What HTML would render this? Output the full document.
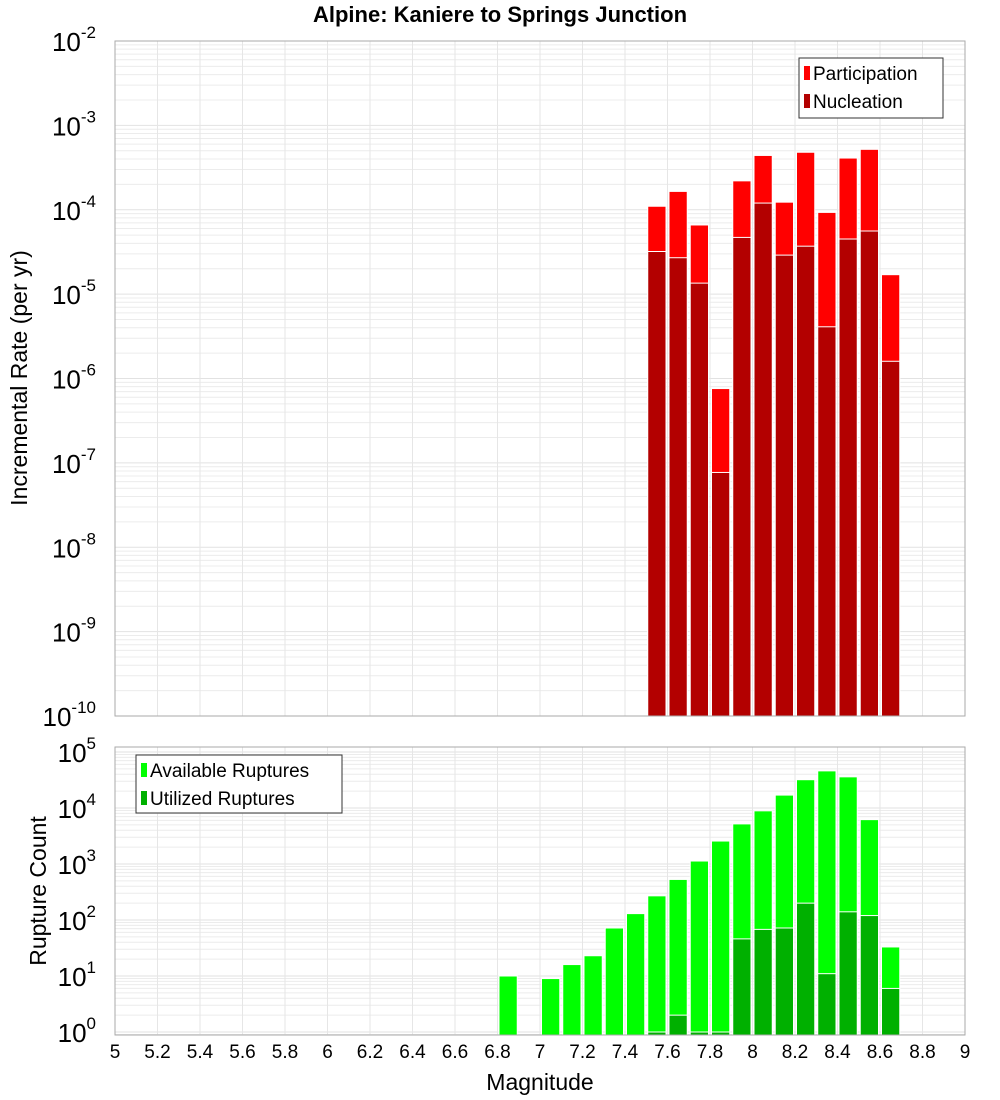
<!DOCTYPE html>
<html><head><meta charset="utf-8">
<style>
html,body{margin:0;padding:0;background:#fff;}
svg{display:block;font-family:"Liberation Sans","DejaVu Sans",sans-serif;}
</style></head>
<body>
<svg id="chart" width="1000" height="1100" viewBox="0 0 1000 1100" xmlns="http://www.w3.org/2000/svg">
<text x="500" y="22" text-anchor="middle" font-size="22" font-weight="bold" fill="#000">Alpine: Kaniere to Springs Junction</text>
<g id="top"></g>
<g id="bot"></g>
<text transform="translate(27,378) rotate(-90)" text-anchor="middle" font-size="23" fill="#000">Incremental Rate (per yr)</text>
<text transform="translate(46,891) rotate(-90)" text-anchor="middle" font-size="23" fill="#000">Rupture Count</text>
<text x="540" y="1090" text-anchor="middle" font-size="23" fill="#000">Magnitude</text>
</svg>
<script>
// ---- data ----
const binStarts = [6.8,6.9,7.0,7.1,7.2,7.3,7.4,7.5,7.6,7.7,7.8,7.9,8.0,8.1,8.2,8.3,8.4,8.5,8.6];
const participation = [0,0,0,0,0,0,0,1.1e-4,1.65e-4,6.6e-5,7.6e-7,2.2e-4,4.4e-4,1.23e-4,4.8e-4,9.3e-5,4.1e-4,5.2e-4,1.7e-5];
const nucleation = [0,0,0,0,0,0,0,3.2e-5,2.7e-5,1.35e-5,7.7e-8,4.7e-5,1.2e-4,2.9e-5,3.7e-5,4.1e-6,4.5e-5,5.6e-5,1.6e-6];
const available = [10,0,9,16,23,72,130,270,530,1130,2570,5200,8900,17000,32000,46000,36000,6200,33];
const utilized = [0,0,0,0,0,0,0,1,2,1,1,46,68,72,200,11,140,120,6];
const xTicks = ["5","5.2","5.4","5.6","5.8","6","6.2","6.4","6.6","6.8","7","7.2","7.4","7.6","7.8","8","8.2","8.4","8.6","8.8","9"];
const topExps = [-2,-3,-4,-5,-6,-7,-8,-9,-10];
const botExps = [5,4,3,2,1,0];

const NS = "http://www.w3.org/2000/svg";
const X0 = 115, X1 = 965, XMIN = 5, XMAX = 9;
const xs = m => X0 + (m - XMIN) / (XMAX - XMIN) * (X1 - X0);
// top axis
const T = {top:41, bottom:716, lmax:-2, lmin:-10};
const ysT = v => T.top + (T.lmax - Math.log10(v)) / (T.lmax - T.lmin) * (T.bottom - T.top);
// bottom axis
const B = {top:747, bottom:1035, dec:56, ref4:808};
const ysB = v => B.ref4 + (4 - Math.log10(v)) * B.dec;

function el(tag, attrs, parent, text){
  const e = document.createElementNS(NS, tag);
  for (const k in attrs) e.setAttribute(k, attrs[k]);
  if (text !== undefined) e.textContent = text;
  parent.appendChild(e);
  return e;
}

function panel(g, top, bottom, yfun, lmin, lmax, prefix){
  // minor + major horizontal grid
  for (let d = Math.floor(lmin); d <= Math.ceil(lmax); d++){
    for (let k = 1; k < 10; k++){
      const y = yfun(k * Math.pow(10, d));
      if (y < top || y > bottom) continue;
      el('line',{x1:X0,x2:X1,y1:y,y2:y,stroke:k===1?'#e2e2e2':'#ececec','stroke-width':1},g);
    }
  }
  for (let i = 0; i < xTicks.length; i++){
    const x = xs(parseFloat(xTicks[i]));
    el('line',{x1:x,x2:x,y1:top,y2:bottom,stroke:'#e6e6e6','stroke-width':1},g);
  }
}

function bars(g, vals, yfun, bottom, fill, name){
  for (let i = 0; i < binStarts.length; i++){
    if (!vals[i]) continue;
    const xa = xs(binStarts[i]) + 1.5, xb = xs(binStarts[i] + 0.1) - 1.5;
    const y = Math.max(yfun(vals[i]), 0);
    const r = el('rect',{x:xa,y:y,width:xb-xa,height:bottom-y,fill:fill,stroke:'#fff','stroke-width':1},g);
    
    
  }
}

function yLabels(g, exps, yfun, xpos){
  exps.forEach(e => {
    const y = yfun(Math.pow(10, e));
    const t = el('text',{x:xpos,y:y+10,'text-anchor':'end','font-size':26,fill:'#000'},g);
    
    
    el('tspan',{},t,'10');
    el('tspan',{dy:-13,'font-size':17},t,String(e));
  });
}

function legend(g, x, y, w, h, items, name){
  const lg = el('g',{},g);
  
  
  el('rect',{x:x,y:y,width:w,height:h,fill:'#fff',stroke:'#333','stroke-width':1},lg);
  items.forEach((it,i) => {
    const yy = y + 15 + i*28;
    el('rect',{x:x+5,y:yy-7,width:6,height:14,fill:it[1]},lg);
    const t = el('text',{x:x+14,y:yy+7,'font-size':19,fill:'#000'},lg,it[0]);
    
    
  });
}

const gT = document.getElementById('top');
panel(gT, T.top, T.bottom, ysT, -10, -2);
bars(gT, participation, ysT, T.bottom, '#ff0000', 'participation-bar');
bars(gT, nucleation, ysT, T.bottom, '#b30000', 'nucleation-bar');
el('rect',{x:X0,y:T.top,width:X1-X0,height:T.bottom-T.top,fill:'none',stroke:'#aaa','stroke-width':1},gT);
yLabels(gT, topExps, ysT, 96);
legend(gT, 799, 58, 144, 60, [['Participation','#ff0000'],['Nucleation','#b30000']], 'top-legend');

const gB = document.getElementById('bot');
panel(gB, B.top, B.bottom, ysB, -1, 5.1);
bars(gB, available, ysB, B.bottom, '#00ff00', 'available-bar');
bars(gB, utilized, ysB, B.bottom, '#00b000', 'utilized-bar');
el('rect',{x:X0,y:B.top,width:X1-X0,height:B.bottom-B.top,fill:'none',stroke:'#aaa','stroke-width':1},gB);
yLabels(gB, botExps, ysB, 96);
legend(gB, 136, 755, 206, 58, [['Available Ruptures','#00ff00'],['Utilized Ruptures','#00b000']], 'bottom-legend');

xTicks.forEach(t => {
  const tx = el('text',{x:xs(parseFloat(t)),y:1058,'text-anchor':'middle','font-size':19,fill:'#000'},gB,t);
  
  
});
</script>
</body></html>
